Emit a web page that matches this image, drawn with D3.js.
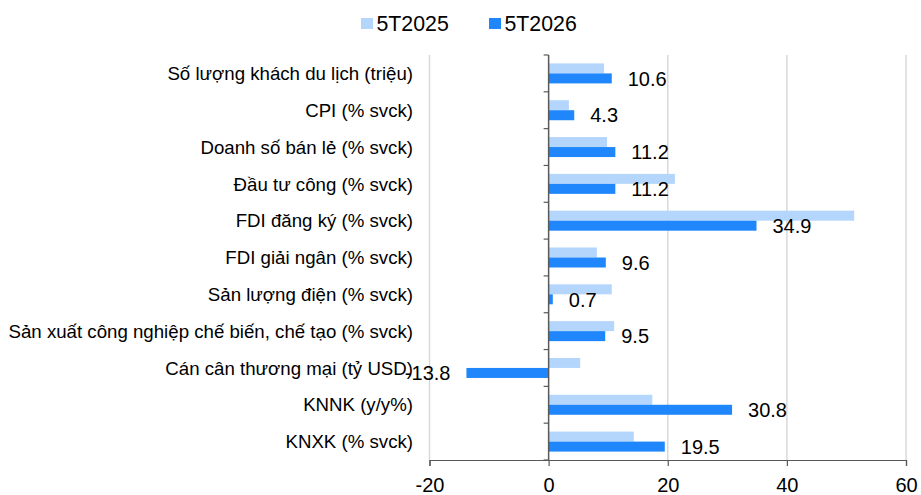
<!DOCTYPE html>
<html>
<head>
<meta charset="utf-8">
<script src="https://cdn.jsdelivr.net/npm/d3@7"></script>
<style>
  body { margin: 0; background: #fff; }
  svg { font-family: "Liberation Sans", Arial, sans-serif; }
</style>
</head>
<body>
<svg id="chart"></svg>
<script>
// chart data
var categories = [
  "Số lượng khách du lịch (triệu)",
  "CPI (% svck)",
  "Doanh số bán lẻ (% svck)",
  "Đầu tư công (% svck)",
  "FDI đăng ký (% svck)",
  "FDI giải ngân (% svck)",
  "Sản lượng điện (% svck)",
  "Sản xuất công nghiệp chế biến, chế tạo (% svck)",
  "Cán cân thương mại (tỷ USD)",
  "KNNK (y/y%)",
  "KNXK (% svck)"
];
var seriesNames = ["5T2025", "5T2026"];
var values2025 = [9.3, 3.4, 9.8, 21.2, 51.3, 8.1, 10.6, 11.0, 5.3, 17.4, 14.3];
var values2026 = [10.6, 4.3, 11.2, 11.2, 34.9, 9.6, 0.7, 9.5, -13.8, 30.8, 19.5];
var xTicks = [-20, 0, 20, 40, 60];

var colors = ["#b4d6fc", "#1f86fb"];

var W = 921, H = 495;
var margin = {top: 55, right: 15, bottom: 35, left: 429.5};
var width = 906 - margin.left, height = 460 - margin.top;

var svg = d3.select("#chart").attr("width", W).attr("height", H);
var g = svg.append("g").attr("transform", "translate(" + margin.left + "," + margin.top + ")");

var x = d3.scaleLinear().domain([-20, 60]).range([0, width]);
var y = d3.scaleBand().domain(categories).range([0, height]);
var barH = 10;

// gridlines
g.selectAll(".grid")
  .data(xTicks.filter(function(d) { return d !== 0; }))
  .enter().append("line")
  .attr("x1", function(d) { return x(d); })
  .attr("x2", function(d) { return x(d); })
  .attr("y1", 0).attr("y2", height)
  .attr("stroke", "#d9d9d9").attr("stroke-width", 1.5);

// bars
var rows = categories.map(function(c, i) { return {cat: c, a: values2025[i], b: values2026[i]}; });

var bandPad = (y.bandwidth() - 2 * barH) / 2;

g.selectAll(".bar25").data(rows).enter().append("rect")
  .attr("x", function(d) { return x(Math.min(0, d.a)); })
  .attr("width", function(d) { return Math.abs(x(d.a) - x(0)); })
  .attr("y", function(d) { return y(d.cat) + bandPad; })
  .attr("height", barH)
  .attr("fill", colors[0]);

g.selectAll(".bar26").data(rows).enter().append("rect")
  .attr("x", function(d) { return x(Math.min(0, d.b)); })
  .attr("width", function(d) { return Math.abs(x(d.b) - x(0)); })
  .attr("y", function(d) { return y(d.cat) + bandPad + barH; })
  .attr("height", barH)
  .attr("fill", colors[1]);

// value labels for 5T2026
g.selectAll(".lbl").data(rows).enter().append("text")
  .attr("x", function(d) { return d.b < 0 ? x(d.b) - 16 : x(d.b) + 16; })
  .attr("y", function(d) { return y(d.cat) + bandPad + barH * 1.5; })
  .attr("dy", "0.36em")
  .attr("text-anchor", function(d) { return d.b < 0 ? "end" : "start"; })
  .attr("font-size", 20)
  .attr("fill", "#000")
  .text(function(d) { return d.b.toFixed(1); });

// y axis at zero
var yAxis = g.append("g").attr("transform", "translate(" + x(0) + ",0)");
yAxis.append("line").attr("y1", 0).attr("y2", height).attr("stroke", "#595959").attr("stroke-width", 1.5);
yAxis.selectAll(".tk").data(d3.range(categories.length + 1)).enter().append("line")
  .attr("x1", -5).attr("x2", 0)
  .attr("y1", function(i) { return i * y.step(); })
  .attr("y2", function(i) { return i * y.step(); })
  .attr("stroke", "#595959").attr("stroke-width", 1.2);

// category labels
svg.selectAll(".cat").data(categories).enter().append("text")
  .attr("x", 413)
  .attr("y", function(d) { return margin.top + y(d) + y.bandwidth() / 2; })
  .attr("dy", "0.36em")
  .attr("text-anchor", "end")
  .attr("font-size", 18.67)
  .attr("fill", "#000")
  .text(function(d) { return d; });

// x axis
var xAxis = g.append("g")
  .attr("transform", "translate(0," + height + ")")
  .call(d3.axisBottom(x).tickValues(xTicks).tickSize(6).tickPadding(12)
    .tickFormat(function(d) { return String(d); }));
xAxis.select(".domain").attr("stroke", "#595959").attr("stroke-width", 1.2);
xAxis.selectAll(".tick line").attr("stroke", "#595959").attr("stroke-width", 1.2);
xAxis.selectAll("text").attr("font-size", 20).attr("fill", "#000")
  .attr("font-family", "Liberation Sans, Arial, sans-serif");

// legend
var legendX = [361, 489];
var legend = svg.selectAll(".lg").data(seriesNames).enter().append("g")
  .attr("transform", function(d, i) { return "translate(" + legendX[i] + ",18)"; });
legend.append("rect").attr("width", 12).attr("height", 11)
  .attr("fill", function(d, i) { return colors[i]; });
legend.append("text").attr("x", 15.5).attr("y", 5.5).attr("dy", "0.36em")
  .attr("font-size", 21.3).attr("fill", "#000")
  .text(function(d) { return d; });
</script>
</body>
</html>
